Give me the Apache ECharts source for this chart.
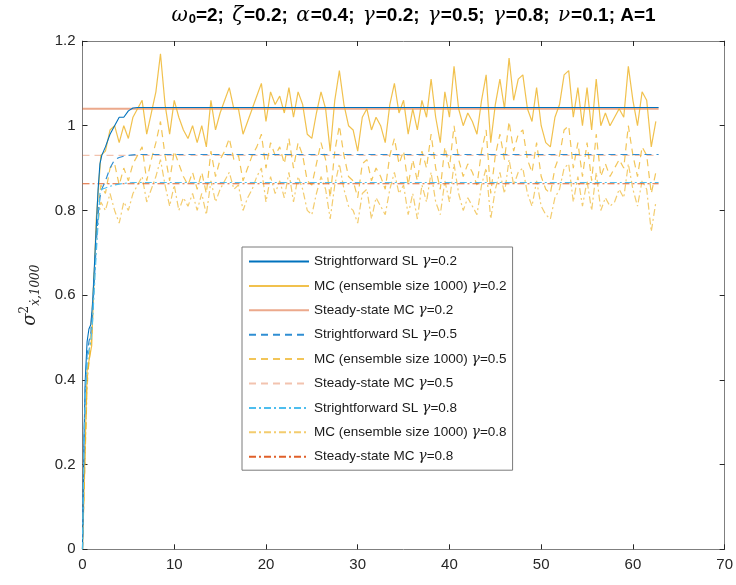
<!DOCTYPE html>
<html>
<head>
<meta charset="utf-8">
<script src="https://cdn.jsdelivr.net/npm/echarts@6/dist/echarts.min.js"></script>
<style>html,body{margin:0;padding:0;background:#fff;}#c{width:736px;height:585px;}</style>
</head>
<body>
<div id="c"></div>
<script>
// ---- data ----
const tStep = 0.5; // MC sample spacing (t = 0, 0.5, ..., 62.5)
const mc02 = [0,0.42,0.48,0.78,0.93,0.94,0.99,1.00,0.96,1.00,0.97,1.02,1.04,1.06,0.98,1.03,1.08,1.17,1.05,0.98,
  1.06,1.02,0.99,0.97,1.00,0.96,1.00,0.95,1.06,0.99,1.03,1.06,1.09,1.04,1.04,0.98,1.01,1.04,1.07,1.10,
  1.01,1.08,1.05,1.07,1.03,1.09,1.02,1.08,1.05,0.98,0.97,1.03,1.08,1.04,0.94,1.06,1.13,1.05,1.00,0.99,
  0.94,1.02,1.04,0.99,1.02,1.00,0.96,1.05,1.10,1.03,1.06,0.98,1.04,0.99,1.06,1.02,1.11,1.02,0.96,1.08,
  1.02,1.14,1.04,1.00,1.03,1.01,0.98,1.06,1.12,0.96,1.05,1.11,1.04,1.16,1.06,1.11,1.12,1.04,1.01,1.09,
  1.00,0.96,0.95,1.02,1.05,1.12,1.13,1.02,1.09,1.00,1.09,0.99,1.11,1.00,1.03,1.00,1.02,1.04,1.02,1.14,
  1.06,1.00,1.08,1.06,0.95,1.01];
const mc05 = [0,0.40,0.50,0.76,0.86,0.84,0.90,0.91,0.86,0.90,0.87,0.91,0.93,0.95,0.87,0.92,0.96,1.01,0.93,0.87,
  0.94,0.91,0.88,0.86,0.89,0.85,0.89,0.84,0.94,0.88,0.92,0.94,0.97,0.92,0.93,0.87,0.90,0.93,0.95,0.98,
  0.90,0.96,0.93,0.95,0.91,0.97,0.90,0.96,0.93,0.87,0.86,0.91,0.96,0.92,0.83,0.94,1.00,0.93,0.88,0.87,
  0.83,0.91,0.92,0.87,0.90,0.88,0.85,0.93,0.97,0.91,0.94,0.86,0.92,0.87,0.94,0.90,0.98,0.90,0.85,0.95,
  0.90,1.00,0.92,0.88,0.91,0.89,0.86,0.94,0.99,0.84,0.93,0.98,0.92,1.01,0.94,0.98,0.99,0.92,0.89,0.96,
  0.88,0.85,0.84,0.90,0.93,0.99,1.00,0.90,0.96,0.88,0.96,0.87,0.98,0.88,0.91,0.88,0.90,0.92,0.90,1.00,
  0.93,0.88,0.95,0.93,0.84,0.89];
const mc08 = [0,0.38,0.55,0.74,0.82,0.80,0.84,0.80,0.77,0.82,0.80,0.84,0.86,0.88,0.82,0.85,0.88,0.92,0.86,0.81,
  0.86,0.80,0.83,0.81,0.84,0.80,0.84,0.79,0.87,0.82,0.85,0.87,0.89,0.85,0.86,0.80,0.83,0.85,0.88,0.90,
  0.82,0.88,0.84,0.87,0.83,0.89,0.82,0.88,0.85,0.80,0.79,0.84,0.88,0.85,0.78,0.86,0.91,0.85,0.81,0.80,
  0.77,0.84,0.85,0.78,0.83,0.81,0.79,0.85,0.89,0.84,0.86,0.79,0.84,0.78,0.86,0.82,0.89,0.82,0.79,0.87,
  0.82,0.91,0.84,0.80,0.83,0.81,0.79,0.86,0.90,0.78,0.85,0.89,0.84,0.92,0.86,0.89,0.90,0.84,0.81,0.87,
  0.81,0.79,0.78,0.83,0.85,0.90,0.91,0.82,0.88,0.81,0.87,0.80,0.89,0.80,0.83,0.81,0.82,0.85,0.83,0.91,
  0.85,0.81,0.87,0.85,0.75,0.82];
const slTime = [0,0.15,0.3,0.5,0.7,0.9,1.1,1.3,1.5,1.7,1.9,2.1,2.5,3.0,3.5,4.0,4.5,5.0,5.5,6.0,62.8];
const sl02 = [0,0.25,0.40,0.49,0.52,0.53,0.58,0.67,0.76,0.85,0.91,0.93,0.95,0.98,1.00,1.02,1.02,1.035,1.042,1.043,1.043];
const sl05 = [0,0.24,0.38,0.46,0.49,0.51,0.56,0.64,0.72,0.79,0.83,0.85,0.87,0.90,0.92,0.925,0.928,0.93,0.931,0.932,0.932];
const sl08 = [0,0.23,0.36,0.44,0.47,0.49,0.54,0.62,0.70,0.77,0.84,0.85,0.853,0.857,0.86,0.862,0.864,0.865,0.866,0.866,0.866];
const ssTime = [0, 62.8];
const ss02 = [1.04, 1.04];
const ss05 = [0.93, 0.93];
const ss08 = [0.863, 0.863];
const xTicks = [0,10,20,30,40,50,60,70];
const yTicks = [0,0.2,0.4,0.6,0.8,1,1.2];
const names = [
  'Strightforward SL γ=0.2','MC (ensemble size 1000) γ=0.2','Steady-state MC γ=0.2',
  'Strightforward SL γ=0.5','MC (ensemble size 1000) γ=0.5','Steady-state MC γ=0.5',
  'Strightforward SL γ=0.8','MC (ensemble size 1000) γ=0.8','Steady-state MC γ=0.8'];

// ---- build ----
const mcPairs = a => a.map((v, i) => [i * tStep, v]);
const zipT = (t, a) => a.map((v, i) => [t[i], v]);
const DASH = [7, 5];
const DASHDOT = [7, 3, 2, 3];
function line(name, data, color, type, width, z) {
  return { name, type: 'line', data, symbol: 'none', showSymbol: false, z: z || 2,
    lineStyle: { color, type, width }, itemStyle: { color }, emphasis: { disabled: true }, animation: false };
}
const series = [
  line(names[0], zipT(slTime, sl02), '#0072BD', 'solid', 1.1, 5),
  line(names[1], mcPairs(mc02), 'rgba(237,177,32,0.8)', 'solid', 1.2, 3),
  line(names[2], zipT(ssTime, ss02), 'rgba(217,83,25,0.5)', 'solid', 2.2, 2),
  line(names[3], zipT(slTime, sl05), '#2F8ED3', DASH, 1.2, 5),
  line(names[4], mcPairs(mc05), 'rgba(237,177,32,0.75)', DASH, 1.2, 3),
  line(names[5], zipT(ssTime, ss05), 'rgba(217,83,25,0.35)', DASH, 1.2, 2),
  line(names[6], zipT(slTime, sl08), '#4DBEEE', DASHDOT, 1.2, 5),
  line(names[7], mcPairs(mc08), 'rgba(237,177,32,0.65)', DASHDOT, 1.2, 3),
  line(names[8], zipT(ssTime, ss08), '#E0602A', DASHDOT, 1.2, 4)
];
const AX = '#262626', AXL = '#7f7f7f';
const font = 'Liberation Sans, Arial, Helvetica, sans-serif';
const serif = 'DejaVu Serif, Liberation Serif, serif';
function xAx(show, pos) {
  return { type: 'value', position: pos, min: 0, max: 70, interval: 10,
    axisLine: { show: true, onZero: false, lineStyle: { color: AXL, width: 1 } },
    axisTick: { show: true, inside: true, length: 5, lineStyle: { color: AX } },
    axisLabel: { show: show, color: AX, fontSize: 15, fontFamily: font, margin: 8 },
    splitLine: { show: false } };
}
function yAx(show, pos) {
  return { type: 'value', position: pos, min: 0, max: 1.2, interval: 0.2,
    axisLine: { show: true, onZero: false, lineStyle: { color: AXL, width: 1 } },
    axisTick: { show: true, inside: true, length: 5, lineStyle: { color: AX } },
    axisLabel: { show: show, color: AX, fontSize: 15, fontFamily: font, margin: 7,
      formatter: v => String(+v.toFixed(1)) },
    splitLine: { show: false } };
}
const chart = echarts.init(document.getElementById('c'), null, { renderer: 'canvas' });
const yName = Object.assign(yAx(true, 'left'), {
  name: '{s|σ}{sup|2}{sub|ẋ,1000}', nameLocation: 'middle', nameGap: 40, nameRotate: 90,
  nameTextStyle: { color: AX, rich: {
    s: { fontFamily: serif, fontStyle: 'italic', fontSize: 18, color: AX },
    sup: { fontFamily: serif, fontSize: 12, color: AX, padding: [0, 0, 12, 0] },
    sub: { fontFamily: serif, fontStyle: 'italic', fontSize: 12, color: AX, padding: [10, 0, 0, 0] }
  } }
});
const bR = { fontFamily: font, fontWeight: 'bold', fontSize: 19, color: '#000' };
const gR = { fontFamily: serif, fontStyle: 'italic', fontWeight: 'normal', fontSize: 20, color: '#000', padding: [0, 1, 0, 3] };
chart.setOption({
  backgroundColor: '#fff',
  animation: false,
  title: {
    text: '{g|ω}{sub|0}{b|=2; }{g|ζ}{b|=0.2; }{g|α}{b|=0.4; }{g|γ}{b|=0.2; }{g|γ}{b|=0.5; }{g|γ}{b|=0.8; }{g|ν}{b|=0.1; A=1}',
    left: 407, top: 0, textAlign: 'center',
    textStyle: { fontWeight: 'bold', rich: { b: bR, g: gR,
      sub: { fontFamily: font, fontWeight: 'bold', fontSize: 13, color: '#000', padding: [8, 0, 0, 0] } } }
  },
  grid: { left: 82.5, right: 9, top: 41, bottom: 35.7, containLabel: false },
  xAxis: [xAx(true, 'bottom'), xAx(false, 'top')],
  yAxis: [yName, yAx(false, 'right')],
  legend: {
    data: names, orient: 'vertical', left: 242, top: 247,
    itemWidth: 60, itemHeight: 14, itemGap: 7.4,
    padding: [6, 6, 5, 6],
    backgroundColor: '#fff', borderColor: '#7a7a7a', borderWidth: 1, borderRadius: 0,
    selectedMode: false,
    itemStyle: { opacity: 0 },
    formatter: n => n.replace('γ', '{g|γ}'),
    textStyle: { fontFamily: font, fontSize: 13.5, color: '#1a1a1a', lineHeight: 17,
      rich: { g: { fontFamily: serif, fontStyle: 'italic', fontSize: 14, color: '#1a1a1a' } } }
  },
  series
});
</script>
</body>
</html>
